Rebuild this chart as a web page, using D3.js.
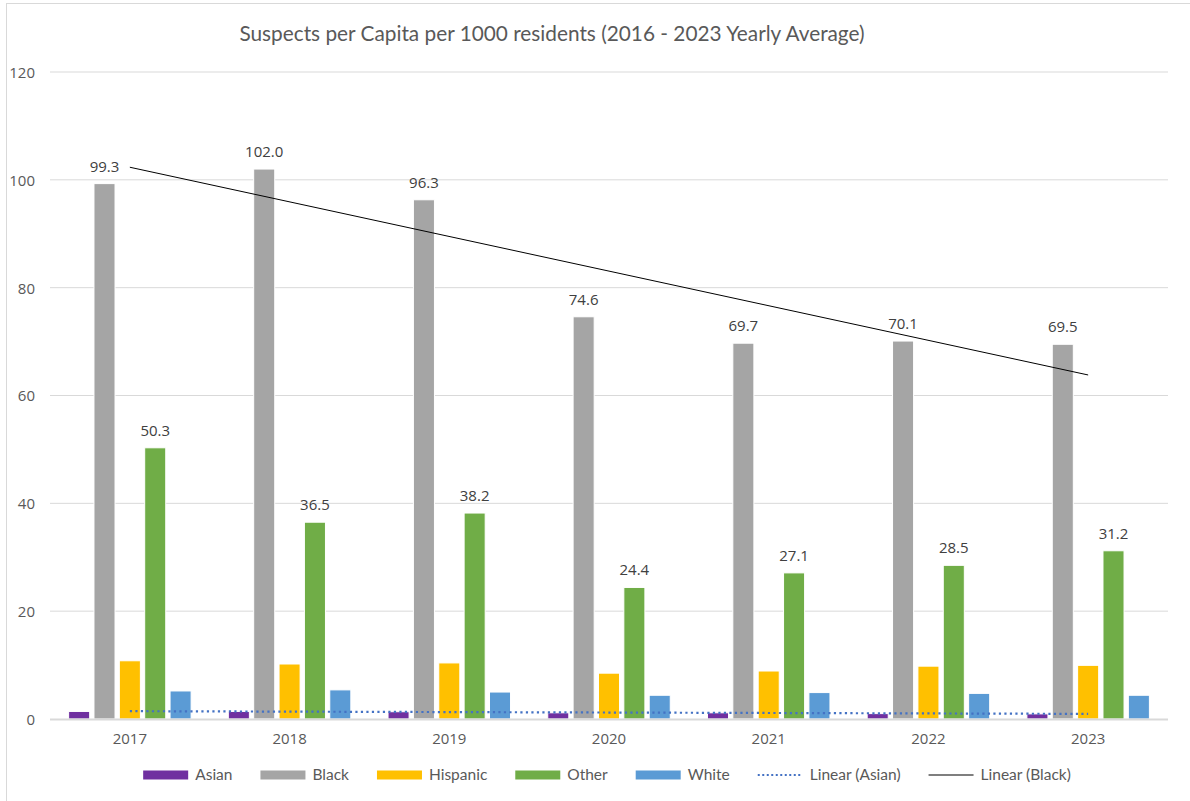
<!DOCTYPE html>
<html><head><meta charset="utf-8">
<script src="https://cdn.jsdelivr.net/npm/d3@7"></script>
<style>body{margin:0;background:#fff}svg{display:block}</style>
</head><body>
<svg id="c" width="1190" height="801"></svg>
<script>
const years = ["2017","2018","2019","2020","2021","2022","2023"];
const series = ["Asian","Black","Hispanic","Other","White"];
const colors = ["#7030A0","#A5A5A5","#FFC000","#70AD47","#5B9BD5"];
const asian = [1.4,1.4,1.35,1.15,1.15,1.0,0.95];
const black = [99.3,102.0,96.3,74.6,69.7,70.1,69.5];
const hispanic = [10.8,10.2,10.4,8.5,8.9,9.8,9.95];
const other = [50.3,36.5,38.2,24.4,27.1,28.5,31.2];
const white = [5.2,5.4,5.0,4.4,4.9,4.75,4.4];
const yTicks = [0,20,40,60,80,100,120];
const labeled = ["Black","Other"];
const title = "Suspects per Capita per 1000 residents (2016 - 2023 Yearly Average)";

const values = {Asian:asian, Black:black, Hispanic:hispanic, Other:other, White:white};
const svg = d3.select("#c");
const font = "'Open Sans', sans-serif";

// chart border
svg.append("rect").attr("x",6.5).attr("y",3.5).attr("width",1200).attr("height",820)
  .attr("fill","none").attr("stroke","#D9D9D9").attr("stroke-width",1);

const x0 = d3.scaleBand().domain(years).range([50,1168]);
const bw = x0.bandwidth();
const groupW = 122.5;
const x1 = d3.scaleBand().domain(series).range([(bw-groupW)/2,(bw+groupW)/2]).paddingInner(0.17);
const y = d3.scaleLinear().domain([0,120]).range([719,72]);

// gridlines
svg.append("g").selectAll("line").data(yTicks.filter(d=>d>0)).join("line")
  .attr("x1",50).attr("x2",1168).attr("y1",d=>y(d)).attr("y2",d=>y(d))
  .attr("stroke","#D9D9D9").attr("stroke-width",1);

// y axis labels
const yAxis = d3.axisLeft(y).tickValues(yTicks).tickSize(0).tickPadding(0);
const gy = svg.append("g").attr("transform","translate(35,0)").call(yAxis);
gy.select(".domain").remove();
gy.selectAll("text").attr("font-family",font).attr("font-size",15).attr("fill","#595959").attr("dy","0.36em");

// bars
const g = svg.append("g");
years.forEach((yr,i)=>{
  series.forEach((s,j)=>{
    const v = values[s][i];
    g.append("rect")
      .attr("x",x0(yr)+x1(s)).attr("width",x1.bandwidth())
      .attr("y",y(v)).attr("height",y(0)-y(v))
      .attr("fill",colors[j]).attr("stroke","#fff").attr("stroke-width",1);
    if(labeled.includes(s)){
      g.append("text").attr("x",x0(yr)+x1(s)+x1.bandwidth()/2).attr("y",y(v)-12)
        .attr("text-anchor","middle").attr("font-family",font).attr("font-size",15)
        .attr("fill","#404040").text(v.toFixed(1));
    }
  });
});

// x axis baseline
svg.append("line").attr("x1",50).attr("x2",1168).attr("y1",y(0)+0.5).attr("y2",y(0)+0.5)
  .attr("stroke","#D9D9D9").attr("stroke-width",2);

// x labels
const xAxis = d3.axisBottom(x0).tickSize(0).tickPadding(0);
const gx = svg.append("g").attr("transform","translate(0,733)").call(xAxis);
gx.select(".domain").remove();
gx.selectAll("text").attr("font-family",font).attr("font-size",15).attr("fill","#595959").attr("dy","0.75em");

// trendlines (least squares)
function fit(arr){
  const n=arr.length, xs=arr.map((d,i)=>i+1);
  const mx=d3.mean(xs), my=d3.mean(arr);
  const b=d3.sum(xs.map((xv,i)=>(xv-mx)*(arr[i]-my)))/d3.sum(xs.map(xv=>(xv-mx)**2));
  const a=my-b*mx;
  return [[years[0],a+b*1],[years[n-1],a+b*n]];
}
const cx = yr => x0(yr)+bw/2;
const line = d3.line().x(d=>cx(d[0])).y(d=>y(d[1]));
svg.append("path").attr("d",line(fit(asian))).attr("fill","none")
  .attr("stroke","#4472C4").attr("stroke-width",2.2).attr("stroke-dasharray","2.2,3.3");
svg.append("path").attr("d",line(fit(black))).attr("fill","none")
  .attr("stroke","#000").attr("stroke-width",1);

// title
svg.append("text").attr("x",552).attr("y",41).attr("text-anchor","middle")
  .attr("font-family","Lato, sans-serif").attr("font-size",20.8).attr("fill","#595959").text(title);

// legend
const legendItems = series.map((s,i)=>({name:s,type:"rect",color:colors[i]}))
  .concat([{name:"Linear (Asian)",type:"dot",color:"#4472C4"},{name:"Linear (Black)",type:"line",color:"#000"}]);
const lg = svg.append("g");
let lx = 0;
legendItems.forEach(it=>{
  const gi = lg.append("g").attr("transform",`translate(${lx},0)`);
  if(it.type==="rect") gi.append("rect").attr("x",0).attr("y",-4.5).attr("width",45).attr("height",9).attr("fill",it.color);
  else if(it.type==="dot") gi.append("line").attr("x1",0).attr("x2",45).attr("y1",0).attr("y2",0)
    .attr("stroke",it.color).attr("stroke-width",2).attr("stroke-dasharray","2,2.5");
  else gi.append("line").attr("x1",0).attr("x2",45).attr("y1",0).attr("y2",0).attr("stroke",it.color).attr("stroke-width",1.2);
  const t = gi.append("text").attr("x",52).attr("y",0).attr("dy","0.35em")
    .attr("font-family","Lato, sans-serif").attr("font-size",15.5).attr("fill","#595959").text(it.name);
  lx += 52 + t.node().getComputedTextLength() + 28;
});
lx -= 28;
lg.attr("transform",`translate(${607 - lx/2},775)`);
</script>
</body></html>
